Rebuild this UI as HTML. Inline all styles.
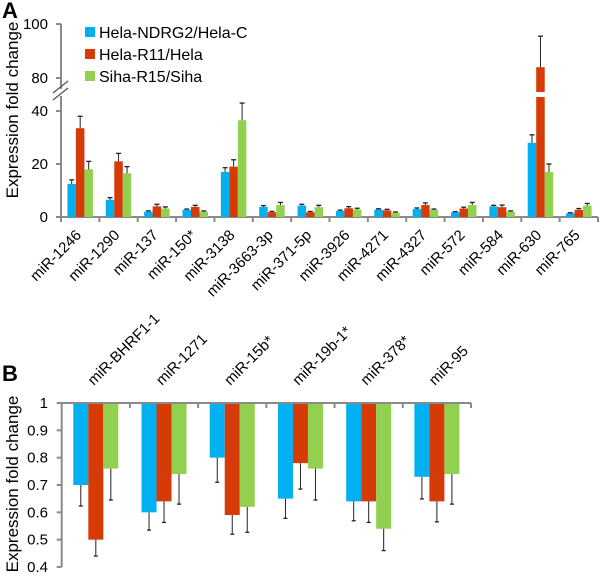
<!DOCTYPE html>
<html><head><meta charset="utf-8"><style>
html,body{margin:0;padding:0;background:#fff;}
svg{display:block;font-family:"Liberation Sans",Arial,sans-serif;}
</style></head><body>
<svg id="chart" width="600" height="577" viewBox="0 0 600 577" xmlns="http://www.w3.org/2000/svg">
<g id="gA"></g>
<g id="gB"></g>
</svg>
<script>
const catsA = ["miR-1246","miR-1290","miR-137","miR-150*","miR-3138","miR-3663-3p","miR-371-5p","miR-3926","miR-4271","miR-4327","miR-572","miR-584","miR-630","miR-765"];
const blueA = [12.5,6.5,2,2.7,17,3.8,4.3,2.3,2.8,3,1.8,4,28,1.4];
const redA = [33.5,21,4,3.8,19,1.8,1.8,3.3,2.5,4.5,3.2,3.7,84,2.7];
const greenA = [18,16.5,3.2,2,36.5,4.5,3.7,2.8,1.6,2.7,4.5,2,17,4.3];
const blueAErr = [1.5,0.8,0.3,0.3,1.6,0.5,0.5,0.3,0.3,0.4,0.2,0.4,3,0.2];
const redAErr = [4.5,3,0.8,0.6,2.6,0.3,0.3,0.6,0.4,0.8,0.5,0.8,11.5,0.5];
const greenAErr = [3,2.5,0.6,0.3,6.5,1,0.7,0.5,0.3,0.3,1,0.3,3,0.8];
const ticksA = [0,20,40,80,100];
const catsB = ["miR-BHRF1-1","miR-1271","miR-15b*","miR-19b-1*","miR-378*","miR-95"];
const blueB = [0.70,0.60,0.80,0.65,0.64,0.73];
const redB = [0.50,0.64,0.59,0.78,0.64,0.64];
const greenB = [0.76,0.74,0.62,0.76,0.54,0.74];
const blueBErr = [0.077,0.065,0.09,0.072,0.071,0.081];
const redBErr = [0.06,0.077,0.07,0.095,0.077,0.075];
const greenBErr = [0.115,0.11,0.093,0.115,0.08,0.11];
const ticksB = [1,0.9,0.8,0.7,0.6,0.5,0.4];
const seriesNames = ["Hela-NDRG2/Hela-C","Hela-R11/Hela","Siha-R15/Siha"];
const COLORS = ["#00b0f0","#d63a06","#92d050"];
const NS = "http://www.w3.org/2000/svg";
function mk(parent, tag, attrs, text){const e=document.createElementNS(NS,tag);for(const k in attrs)e.setAttribute(k,attrs[k]);if(text!==undefined)e.textContent=text;parent.appendChild(e);return e;}
const AX="#8a8a8a";
// ---------- Panel A ----------
const gA=document.getElementById('gA');
const ax0=61, ax1=598, bandA=(ax1-ax0)/catsA.length;
function yA(v){return v<=45 ? 217 - v*2.65 : 78 - (v-80)*2.7;}
function xA(i){return ax0 + bandA*(i+0.5);}
let t=mk(gA,'text',{x:2,y:18,'font-size':22,'font-weight':'bold'},'A');


t=mk(gA,'text',{x:0,y:0,'font-size':17,'text-anchor':'middle',transform:'translate(18,110) rotate(-90)'},'Expression fold change');


let l=mk(gA,'line',{x1:ax0,y1:24,x2:ax0,y2:89,stroke:AX,'stroke-width':2});


l=mk(gA,'line',{x1:ax0,y1:96,x2:ax0,y2:217,stroke:AX,'stroke-width':2});


l=mk(gA,'line',{x1:53,y1:93,x2:68,y2:81,stroke:'#555','stroke-width':1.3});


l=mk(gA,'line',{x1:53,y1:100,x2:68,y2:88,stroke:'#555','stroke-width':1.3});


ticksA.forEach(v=>{
  const y=yA(v);
  const tk=mk(gA,'line',{x1:ax0-5,y1:y,x2:ax0,y2:y,stroke:AX,'stroke-width':2});
  
  
  const tl=mk(gA,'text',{x:48,y:y+5,'font-size':15,'text-anchor':'end'},String(v));
  
  
});
l=mk(gA,'line',{x1:ax0,y1:217,x2:ax1,y2:217,stroke:AX,'stroke-width':2});


for(let i=0;i<=catsA.length;i++){
  const x=ax0+bandA*i;
  const tk=mk(gA,'line',{x1:x,y1:217,x2:x,y2:222,stroke:AX,'stroke-width':2});
  
  
}
const bwA=8.5;
const valsA=[blueA,redA,greenA], errsA=[blueAErr,redAErr,greenAErr];
catsA.forEach((c,i)=>{
  for(let s=0;s<3;s++){
    const v=valsA[s][i], e=errsA[s][i];
    const x=xA(i)-1.5*bwA+s*bwA;
    const y=yA(v);
    const r=mk(gA,'rect',{x:x,y:y,width:bwA,height:217-y,fill:COLORS[s]});
    
    
    if(v>45){
      const gp=mk(gA,'rect',{x:x-0.5,y:92,width:bwA+1,height:5,fill:'#fff'});
      
      
    }
    const ye=yA(v+e), cx=x+bwA/2;
    const el=mk(gA,'line',{x1:cx,y1:y,x2:cx,y2:ye,stroke:'#222','stroke-width':1});
    
    
    const ec=mk(gA,'line',{x1:cx-2.5,y1:ye,x2:cx+2.5,y2:ye,stroke:'#222','stroke-width':1.3});
    
    
  }
  const tx=xA(i)+2, ty=236;
  const lb=mk(gA,'text',{x:tx,y:ty,'font-size':15,'text-anchor':'end',transform:`rotate(-45 ${tx} ${ty})`},c);
  
  
});
seriesNames.forEach((n,s)=>{
  const y=32+s*22;
  const sq=mk(gA,'rect',{x:85,y:y-5,width:10,height:10,fill:COLORS[s]});
  
  
  const lt=mk(gA,'text',{x:99,y:y+6,'font-size':16},n);
  
  
});
// ---------- Panel B ----------
const gB=document.getElementById('gB');
const bx0=61.7, bx1=471, bandB=(bx1-bx0)/catsB.length;
function yB(v){return 403 + (1-v)*273.3;}
function xB(i){return bx0 + bandB*(i+0.5);}
t=mk(gB,'text',{x:2,y:381,'font-size':22,'font-weight':'bold'},'B');


t=mk(gB,'text',{x:0,y:0,'font-size':17,'text-anchor':'middle',transform:'translate(18,484) rotate(-90)'},'Expression fold change');


l=mk(gB,'line',{x1:bx0,y1:403,x2:bx0,y2:567,stroke:AX,'stroke-width':2});


ticksB.forEach(v=>{
  const y=yB(v);
  const tk=mk(gB,'line',{x1:bx0-5,y1:y,x2:bx0,y2:y,stroke:AX,'stroke-width':2});
  
  
  const tl=mk(gB,'text',{x:48,y:y+5,'font-size':15,'text-anchor':'end'},String(v));
  
  
});
const valsB=[blueB,redB,greenB], errsB=[blueBErr,redBErr,greenBErr];
const bwB=15;
catsB.forEach((c,i)=>{
  for(let s=0;s<3;s++){
    const v=valsB[s][i], e=errsB[s][i];
    const x=xB(i)-1.5*bwB+s*bwB;
    const y=yB(v);
    const r=mk(gB,'rect',{x:x,y:403,width:bwB,height:y-403,fill:COLORS[s]});
    
    
    const ye=yB(v-e), cx=x+bwB/2;
    const el=mk(gB,'line',{x1:cx,y1:y,x2:cx,y2:ye,stroke:'#222','stroke-width':1});
    
    
    const ec=mk(gB,'line',{x1:cx-2,y1:ye,x2:cx+2,y2:ye,stroke:'#222','stroke-width':1.3});
    
    
  }
  const tx=xB(i)-2, ty=386;
  const lb=mk(gB,'text',{x:tx,y:ty,'font-size':15,'text-anchor':'start',transform:`rotate(-45 ${tx} ${ty})`},c);
  
  
});
l=mk(gB,'line',{x1:bx0,y1:403,x2:bx1,y2:403,stroke:AX,'stroke-width':2});


for(let i=1;i<=catsB.length;i++){
  const x=bx0+bandB*i;
  const tk=mk(gB,'line',{x1:x,y1:403,x2:x,y2:408,stroke:AX,'stroke-width':2});
  
  
}
</script>
</body></html>
